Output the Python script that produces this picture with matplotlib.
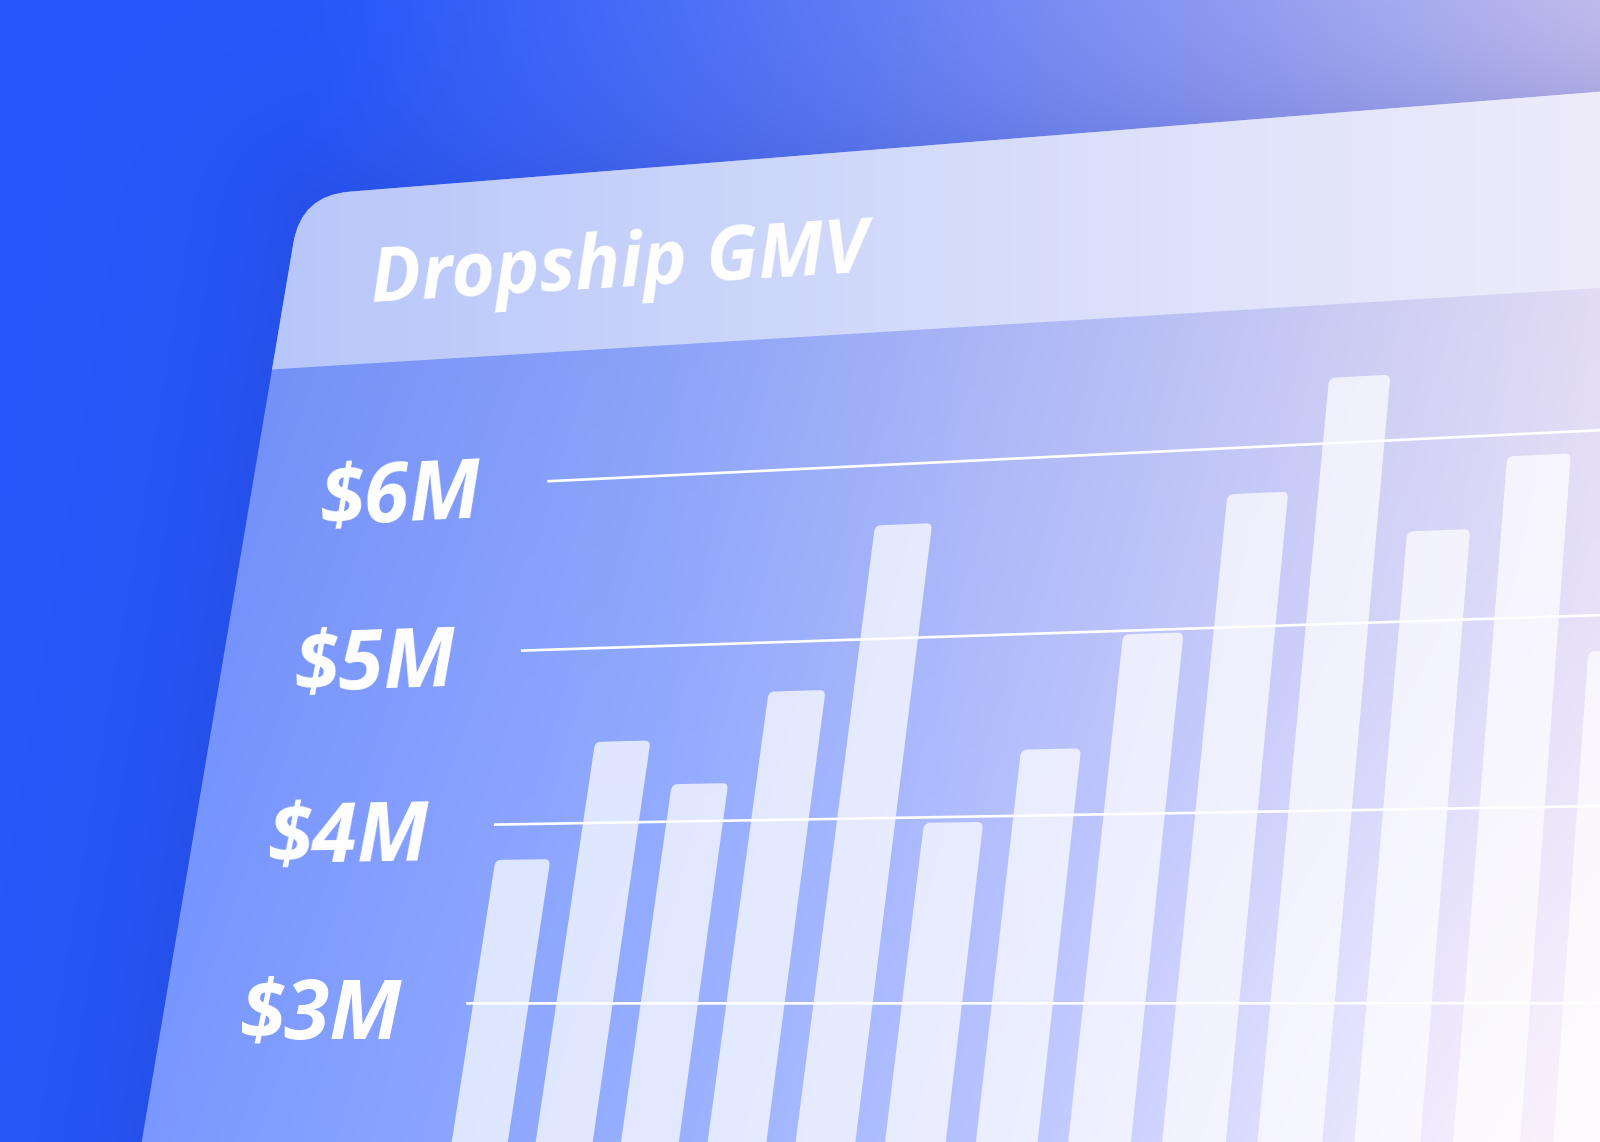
import numpy as np
import matplotlib
matplotlib.use('Agg')
import matplotlib.pyplot as plt
from matplotlib import transforms as mtransforms
from matplotlib.path import Path
from matplotlib.patches import PathPatch, FancyBboxPatch

# ---- chart data ----
title = 'Dropship GMV'
months = np.arange(13)
gmv = [3.80, 4.46, 4.21, 4.72, 5.65, 3.97, 4.36, 4.98, 5.74, 6.37, 5.49, 5.88, 4.81]   # $M
ticks = [3, 4, 5, 6]
tick_labels = ['$3M', '$4M', '$5M', '$6M']

bar_w = 0.67
bar_base = 1.5          # bars run off the bottom of the card
grid_x0, grid_x1 = -0.42, 14.0

# ---- perspective calibration: (month, $M) -> picture pixel ----
calib_src = [(1.665, 3), (10.665, 3), (1.665, 6), (10.665, 6), (1.665, 5), (10.665, 5),
             (1.665, 4), (10.665, 4), (3.665, 6), (8.665, 6)]
calib_dst = [(640, 1003.3), (1463.3, 1003.3), (716.9, 473.3), (1509, 434.1), (692, 645),
             (1494, 619.5), (666.3, 822.2), (1479, 807.5), (881.2, 465.1), (1323.4, 443.3)]
left_edges_px = [640, 726, 812.7, 901.7, 991.7, 1082.3, 1176.7, 1270, 1366.7, 1463.3, 1563.3]
right_edges_px = [613.3, 698.3, 785, 872.7, 962.3, 1053.3, 1146.7, 1240, 1335, 1432.3, 1530]
for k, px in enumerate(left_edges_px):
    calib_src.append((k + 2 - bar_w / 2, 3)); calib_dst.append((px, 1003.3))
for k, px in enumerate(right_edges_px):
    calib_src.append((k + 1 + bar_w / 2, 3)); calib_dst.append((px, 1003.3))


def fit_homography(src, dst):
    rows = []
    for (x, y), (u, v) in zip(src, dst):
        u, v = u / 1000.0, v / 1000.0
        rows.append([x, y, 1, 0, 0, 0, -u * x, -u * y, -u])
        rows.append([0, 0, 0, x, y, 1, -v * x, -v * y, -v])
    _, _, vt = np.linalg.svd(np.array(rows))
    m = vt[-1].reshape(3, 3)
    m = np.diag([1000.0, 1000.0, 1.0]) @ m
    return m / m[2, 2]


class Perspective(mtransforms.Transform):
    input_dims = output_dims = 2

    def __init__(self, m):
        super().__init__()
        self.m = m

    def transform_non_affine(self, values):
        v = np.asarray(values, float).reshape(-1, 2)
        p = np.column_stack([v, np.ones(len(v))]) @ self.m.T
        return p[:, :2] / p[:, 2:3]

    def inverted(self):
        return Perspective(np.linalg.inv(self.m))


persp = Perspective(fit_homography(calib_src, calib_dst))

W, H = 1600, 1142
fig = plt.figure(figsize=(W / 100, H / 100), dpi=100)
ax = fig.add_axes([0, 0, 1, 1])
ax.set_xlim(0, W)
ax.set_ylim(H, 0)
ax.axis('off')
trans = persp + ax.transData

# ---- card outline (layout, picture pixels) ----
top_a, top_b = np.array([336.7, 192.7]), np.array([1600, 91.7])
left_a, left_b = np.array([295, 233.3]), np.array([250, 500])
div_a, div_b = np.array([273.3, 369.3]), np.array([1600, 288])


def intersect(p1, p2, q1, q2):
    d1, d2 = p2 - p1, q2 - q1
    s = np.linalg.solve(np.column_stack([d1, -d2]), q1 - p1)
    return p1 + s[0] * d1


def unit(v):
    return v / np.hypot(*v)


corner = intersect(top_a, top_b, left_a, left_b)
dir_top, dir_left = unit(top_b - top_a), unit(left_b - left_a)
rad = 48
c1, c2 = corner + rad * dir_left, corner + rad * dir_top
top_far = top_a + dir_top * (1750 - top_a[0]) / dir_top[0]
left_far = left_a + dir_left * (1300 - left_a[1]) / dir_left[1]
div_left = intersect(div_a, div_b, left_a, left_b)
div_far = div_a + unit(div_b - div_a) * (1750 - div_a[0]) / unit(div_b - div_a)[0]

card_path = Path([c1, corner, c2, top_far, (1750, 1300), left_far, c1],
                 [Path.MOVETO, Path.CURVE3, Path.CURVE3, Path.LINETO, Path.LINETO,
                  Path.LINETO, Path.CLOSEPOLY])
head_path = Path([c1, corner, c2, top_far, div_far, div_left, c1],
                 [Path.MOVETO, Path.CURVE3, Path.CURVE3, Path.LINETO, Path.LINETO,
                  Path.LINETO, Path.CLOSEPOLY])

# ---- background with soft shadow ----
yy, xx = np.mgrid[0:H, 0:W].astype(float)
blue = np.array([40, 88, 251.0])
lav = np.array([202, 196, 242.0])
t = (np.clip((xx - 300) / 1300, 0, 1) ** 1.2)[..., None]
bg = blue * (1 - t) + lav * t
n_top = np.array([dir_top[1], -dir_top[0]])
n_left = np.array([-dir_left[1], dir_left[0]])
d_top = np.maximum((xx - top_a[0]) * n_top[0] + (yy - top_a[1]) * n_top[1], 0)
d_left = np.maximum((xx - left_a[0]) * n_left[0] + (yy - left_a[1]) * n_left[1], 0)
shade = (0.17 * np.exp(-np.hypot(d_top, d_left) / 85))[..., None]
bg = bg * (1 - shade) + np.array([25, 40, 150.0]) * shade
ax.imshow(bg / 255, extent=(0, W, H, 0), origin='upper', zorder=0, interpolation='bilinear')

# card body gradient
u = np.clip((xx - 150) / 1450, 0, 1)
stops = [0, 0.35, 0.65, 1]
body_cols = np.array([[108, 138, 246], [138, 162, 247], [180, 188, 245], [226, 220, 243]], float)
body = np.stack([np.interp(u, stops, body_cols[:, c]) for c in range(3)], axis=-1)
body += (np.clip((yy - 300) / 842, 0, 1) * 14)[..., None]
glow = (np.clip(1 - np.hypot(xx - 1650, yy - 1250) / 700, 0, 1) ** 1.5)[..., None]
body = body * (1 - glow) + np.array([255, 245, 247.0]) * glow
card_patch = PathPatch(card_path, transform=ax.transData, facecolor='none', edgecolor='none')
im = ax.imshow(np.clip(body, 0, 255) / 255, extent=(0, W, H, 0), origin='upper', zorder=1,
               interpolation='bilinear')
im.set_clip_path(card_patch)

# title band
u2 = np.clip((xx - 270) / 1330, 0, 1)
head_cols = np.array([[183, 198, 250], [212, 220, 250], [238, 236, 250]], float)
head = np.stack([np.interp(u2, [0, 0.5, 1], head_cols[:, c]) for c in range(3)], axis=-1)
head_patch = PathPatch(head_path, transform=ax.transData, facecolor='none', edgecolor='none')
im2 = ax.imshow(head / 255, extent=(0, W, H, 0), origin='upper', zorder=2,
                interpolation='bilinear')
im2.set_clip_path(head_patch)

# ---- bars ----
for xi, vi in zip(months, gmv):
    ax.add_patch(FancyBboxPatch((xi - bar_w / 2, bar_base), bar_w, vi - bar_base,
                                boxstyle='round,pad=0,rounding_size=0.07', mutation_aspect=0.5,
                                transform=trans, facecolor='white', edgecolor='none',
                                alpha=0.72, zorder=3))

# ---- gridlines and tick labels ----
font = ['Open Sans', 'DejaVu Sans']
for v, lab in zip(ticks, tick_labels):
    ax.plot([grid_x0, grid_x1], [v, v], transform=trans, color='white', lw=1.9,
            solid_capstyle='butt', zorder=4)
    p0, p1 = persp.transform([[grid_x0, v], [grid_x0 + 1, v]])
    ang = np.degrees(np.arctan2(-(p1[1] - p0[1]), p1[0] - p0[0]))
    ax.text(p0[0] - 64, p0[1] + 35, lab, ha='right', va='baseline', rotation=ang,
            rotation_mode='anchor', fontsize=59, fontstyle='italic', fontweight='bold',
            family=font, color='white', parse_math=False, zorder=5)

ax.text(372, 301.7, title, ha='left', va='baseline', rotation=3.5, rotation_mode='anchor',
        fontsize=54, fontstyle='italic', fontweight='bold', family=font, color='white',
        zorder=5)

fig.savefig('out.png', dpi=100)
